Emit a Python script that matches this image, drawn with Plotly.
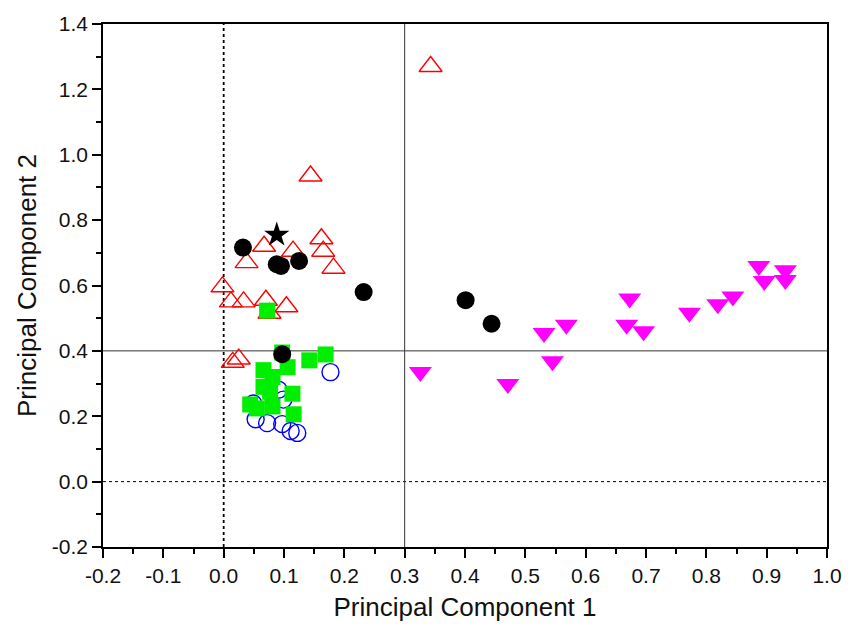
import plotly.graph_objects as go

# Red open up-triangles
tri_x = [0.343, 0.144, 0.162, 0.067, 0.115, 0.165, 0.038, 0.182, -0.002, 0.012, 0.033, 0.070, 0.104, 0.076, 0.015, 0.025]
tri_y = [1.270, 0.935, 0.743, 0.720, 0.705, 0.705, 0.670, 0.653, 0.596, 0.550, 0.550, 0.555, 0.535, 0.515, 0.365, 0.375]

# Blue open circles
oc_x = [0.177, 0.053, 0.072, 0.097, 0.111, 0.122, 0.091, 0.099, 0.049]
oc_y = [0.335, 0.191, 0.179, 0.176, 0.155, 0.149, 0.281, 0.251, 0.239]

# Green squares
sq_x = [0.072, 0.097, 0.106, 0.142, 0.169, 0.066, 0.081, 0.066, 0.077, 0.114, 0.044, 0.081, 0.116, 0.055]
sq_y = [0.523, 0.395, 0.350, 0.371, 0.389, 0.341, 0.320, 0.290, 0.275, 0.269, 0.236, 0.230, 0.206, 0.224]

# Black filled circles
bc_x = [0.032, 0.088, 0.095, 0.125, 0.232, 0.401, 0.444, 0.097]
bc_y = [0.716, 0.665, 0.660, 0.675, 0.580, 0.555, 0.483, 0.390]

# Magenta down-triangles
md_x = [0.326, 0.471, 0.531, 0.545, 0.568, 0.673, 0.668, 0.696, 0.772, 0.819, 0.844, 0.887, 0.931, 0.896, 0.931]
md_y = [0.335, 0.299, 0.455, 0.368, 0.480, 0.560, 0.480, 0.460, 0.517, 0.543, 0.566, 0.660, 0.647, 0.614, 0.617]

# Star
st_x = [0.088]
st_y = [0.755]

x_ticks = [-0.2, -0.1, 0.0, 0.1, 0.2, 0.3, 0.4, 0.5, 0.6, 0.7, 0.8, 0.9, 1.0]
y_ticks = [-0.2, 0.0, 0.2, 0.4, 0.6, 0.8, 1.0, 1.2, 1.4]

fig = go.Figure()
fig.add_trace(go.Scatter(x=tri_x, y=tri_y, mode="markers",
                         marker=dict(symbol="triangle-up-open", size=20, color="#ff0000", line=dict(width=1.4))))
fig.add_trace(go.Scatter(x=oc_x, y=oc_y, mode="markers",
                         marker=dict(symbol="circle-open", size=17, color="#0000ff", line=dict(width=1.4))))
fig.add_trace(go.Scatter(x=sq_x, y=sq_y, mode="markers",
                         marker=dict(symbol="square", size=16, color="#00ee00", line=dict(width=0))))
fig.add_trace(go.Scatter(x=bc_x, y=bc_y, mode="markers",
                         marker=dict(symbol="circle", size=18, color="#000000", line=dict(width=0))))
fig.add_trace(go.Scatter(x=md_x, y=md_y, mode="markers",
                         marker=dict(symbol="triangle-down", size=20, color="#ff00ff", line=dict(width=0))))
fig.add_trace(go.Scatter(x=st_x, y=st_y, mode="markers",
                         marker=dict(symbol="star", size=19, color="#000000", line=dict(width=0))))

# reference lines
fig.add_shape(type="line", x0=0, x1=0, y0=-0.2, y1=1.4, xref="x", yref="y",
              line=dict(color="black", width=1.8, dash="dot"), layer="below")
fig.add_shape(type="line", x0=-0.2, x1=1.0, y0=0, y1=0, xref="x", yref="y",
              line=dict(color="black", width=1, dash="dot"), layer="below")
fig.add_shape(type="line", x0=0.3, x1=0.3, y0=-0.2, y1=1.4, xref="x", yref="y",
              line=dict(color="#333333", width=1), layer="below")
fig.add_shape(type="line", x0=-0.2, x1=1.0, y0=0.4, y1=0.4, xref="x", yref="y",
              line=dict(color="#333333", width=1), layer="below")

font_family = "Liberation Sans, Arial, sans-serif"
fig.update_layout(
    width=857, height=629,
    margin=dict(l=103, r=30, t=20, b=76),
    paper_bgcolor="white", plot_bgcolor="white",
    showlegend=False,
    font=dict(family=font_family, color="#111111"),
)
fig.update_xaxes(
    range=[-0.2, 1.0], tickvals=x_ticks, ticktext=[f"{v:.1f}" for v in x_ticks],
    showgrid=False, zeroline=False, showline=True, linecolor="black", linewidth=1.5, mirror=True,
    ticks="outside", ticklen=9, tickwidth=1.5, tickcolor="black",
    minor=dict(ticks="outside", dtick=0.05, tick0=0, ticklen=5, tickwidth=1.5, tickcolor="black", showgrid=False),
    tickfont=dict(size=21, family=font_family, color="#111111"),
    title=dict(text="Principal Component 1", font=dict(size=26, family=font_family, color="#111111"), standoff=12),
)
fig.update_yaxes(
    range=[-0.2, 1.4], tickvals=y_ticks, ticktext=[f"{v:.1f}" for v in y_ticks],
    showgrid=False, zeroline=False, showline=True, linecolor="black", linewidth=1.5, mirror=True,
    ticks="outside", ticklen=9, tickwidth=1.5, tickcolor="black",
    minor=dict(ticks="outside", dtick=0.1, tick0=0, ticklen=5, tickwidth=1.5, tickcolor="black", showgrid=False),
    tickfont=dict(size=21, family=font_family, color="#111111"),
    title=dict(text="Principal Component 2", font=dict(size=26, family=font_family, color="#111111"), standoff=8),
)

fig.write_html("out.html")
